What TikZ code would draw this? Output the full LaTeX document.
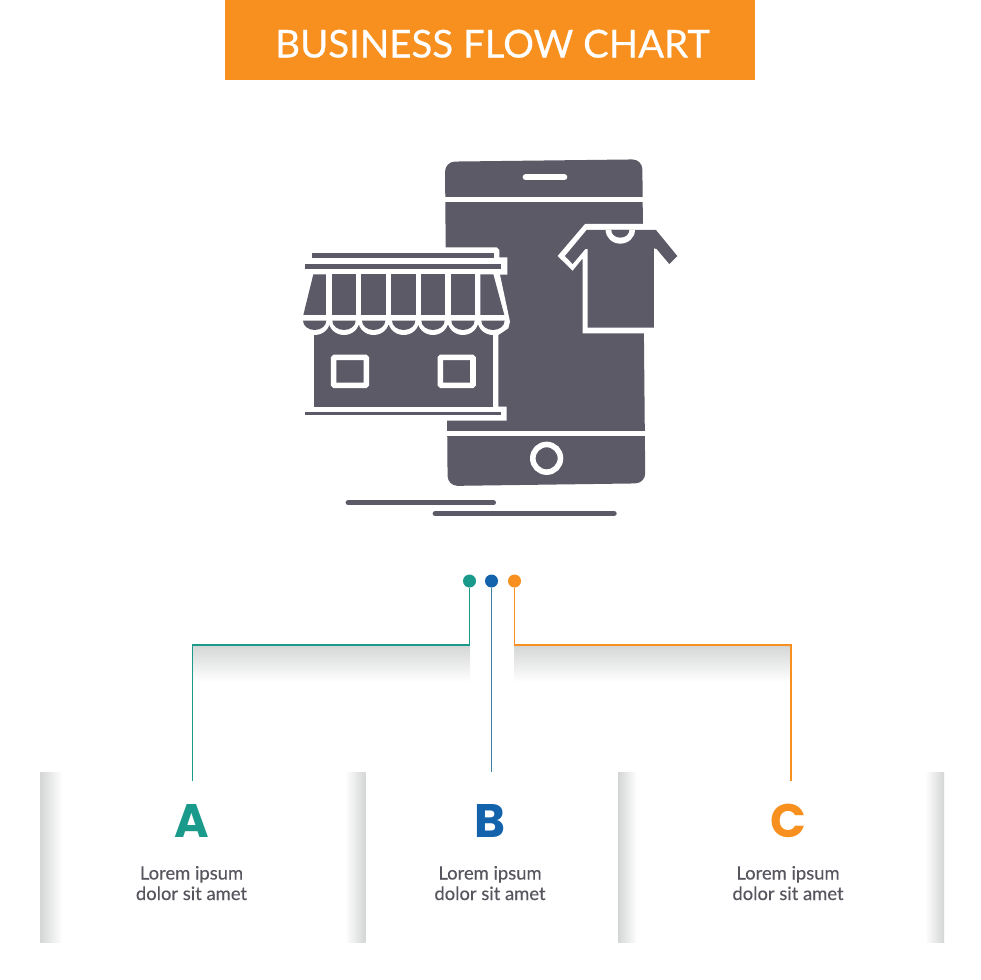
\documentclass[tikz,border=0pt]{standalone}
\usepackage{fontspec}
\setmainfont{Lato}
\newfontfamily\heavyfont{Poppins}
\newfontfamily\titlefont[FakeBold=0.5]{Lato}
\newfontfamily\bodyfont[FakeBold=0.25]{Lato}
\usetikzlibrary{calc}
\definecolor{bannerorange}{HTML}{F7901E}
\definecolor{icongray}{HTML}{5B5A66}
\definecolor{textgray}{HTML}{57565E}
\definecolor{tealmark}{HTML}{1A9A8B}
\definecolor{bluemark}{HTML}{1262AC}
\definecolor{blueline}{HTML}{3F7FA6}
\definecolor{shadegray}{HTML}{D4D5D5}
\tikzset{
	dotmark/.style={circle,inner sep=0pt,minimum size=13pt,fill=#1},
	linkline/.style={draw=#1,line width=1.8pt},
	letterlabel/.style={font=\heavyfont\bfseries\fontsize{47}{50}\selectfont,text=#1,anchor=base},
	bodylabel/.style={font=\bodyfont\fontsize{18.4}{20.5}\selectfont,text=textgray,align=center,anchor=base},
	icondark/.style={fill=icongray},
	iconcut/.style={draw=white,line width=5.6pt},
}
\begin{document}
\begin{tikzpicture}[x=1pt,y=-1pt]
	\useasboundingbox (0,0) rectangle (980,980);
	\fill[white] (0,0) rectangle (980,980);
	% title banner
	\fill[bannerorange] (225,0) rectangle (755,80);
	\node[font=\titlefont\fontsize{38.4}{44}\selectfont,text=white,anchor=base] (title) at (492.5,57.5) {BUSINESS FLOW CHART};
	% icon, in the pixels of a 3x crop
	\begin{scope}[shift={(290,150)},x=0.3333pt,y=-0.3333pt]
		% phone
		\fill[icondark,rounded corners=10pt] (465,35)--(1057,28)--(1066,1000)--(473,1008)--cycle;
		\draw[iconcut] (455,148)--(1070,148);
		\draw[iconcut] (460,851)--(1075,851);
		\draw[white,line width=6pt,line cap=round] (707,82)--(823,82);
		\draw[iconcut] (770,925) circle (41.5);
		% shirt
		\fill[white] (885,222)--(1075,222)--(1075,550)--(878,550)--(878,325)--(848,362)--(803,318)--cycle;
		\fill[icondark] (890,240)--(1098,240)--(1162,318)--(1138,342)--(1100,297)--(1092,295)--(1092,533)--(893,533)--(893,297)--(886,297)--(848,342)--(825,318)--cycle;
		\fill[white] (947,240) arc[start angle=180,end angle=0,x radius=44,y radius=41]--cycle;
		\fill[icondark] (964,240) arc[start angle=180,end angle=0,x radius=27,y radius=23]--cycle;
		% store backing
		\fill[white] (440,292)--(620,292)--(628,300)--(628,322)--(652,322)--(652,374)--(630,374)--(660,515)--(655,535)--(625,555)--(625,770)--(650,770)--(650,812)--(440,812)--cycle;
		% store roof bars
		\fill[icondark] (67,310) rectangle (612,325);
		\fill[icondark] (46,341) rectangle (634,356);
		\fill[icondark] (46,787) rectangle (634,796);
		% awning
		\fill[icondark] (70,373)--(108,373)--(108,495)--(40,495)--cycle;
		\foreach \a/\b in {125/197,214/287,304/377,392/464,482/554}{
			\fill[icondark] (\a,373) rectangle (\b,495);
		}
		\fill[icondark] (571,373)--(610,373)--(643,495)--(571,495)--cycle;
		% store body with windows
		\fill[icondark] (73,525) rectangle (608,770);
		\fill[white] (30,512) rectangle (73,560);
		\foreach \c in {74,162,251,341,429,519,609}{
			\fill[white] ($(\c,512)+(-46,0)$) arc[start angle=180,end angle=0,x radius=46,y radius=43]--cycle;
			\fill[icondark] ($(\c,512)+(-35,0)$) arc[start angle=180,end angle=0,x radius=35,y radius=28]--cycle;
		}
		\draw[iconcut,rounded corners=1pt] (131,622) rectangle (229,706);
		\draw[iconcut,rounded corners=1pt] (451,622) rectangle (549,706);
		% ground lines
		\draw[icongray,line width=5.5pt,line cap=round] (175,1058)--(610,1058);
		\draw[icongray,line width=5.5pt,line cap=round] (436,1091)--(972,1091);
	\end{scope}
	% fades under the connectors
	\shade[top color=shadegray,bottom color=white] (193,645) rectangle (470,682);
	\shade[top color=shadegray,bottom color=white] (514,645) rectangle (791,682);
	% side fades of the panels
	\shade[left color=shadegray,right color=white] (40,772) rectangle (62,942);
	\shade[left color=white,right color=shadegray] (345,772) rectangle (365.5,942);
	\shade[left color=shadegray,right color=white] (618,772) rectangle (637,942);
	\shade[left color=white,right color=shadegray] (925,772) rectangle (944,942);
	% connectors
	\node[dotmark=tealmark] (dotA) at (469.5,581) {};
	\node[dotmark=bluemark] (dotB) at (491.5,581) {};
	\node[dotmark=bannerorange] (dotC) at (514.5,581) {};
	\coordinate (cornerA) at (192.5,645);
	\coordinate (endA) at (192.5,781);
	\coordinate (endB) at (491.5,771.5);
	\coordinate (cornerC) at (791,645);
	\coordinate (endC) at (791,781);
	\draw[linkline=tealmark] (dotA) |- (cornerA) -- (endA);
	\draw[linkline=blueline] (dotB) -- (endB);
	\draw[linkline=bannerorange] (dotC) |- (cornerC) -- (endC);
	% letters and captions
	\node[letterlabel=tealmark] (letterA) at (191.5,837) {A};
	\node[letterlabel=bluemark] (letterB) at (490,837) {B};
	\node[letterlabel=bannerorange] (letterC) at (788,837) {C};
	\node[bodylabel] (textA) at (191.5,900) {Lorem ipsum\\dolor sit amet};
	\node[bodylabel] (textB) at (490,900) {Lorem ipsum\\dolor sit amet};
	\node[bodylabel] (textC) at (788,900) {Lorem ipsum\\dolor sit amet};
\end{tikzpicture}
\end{document}
